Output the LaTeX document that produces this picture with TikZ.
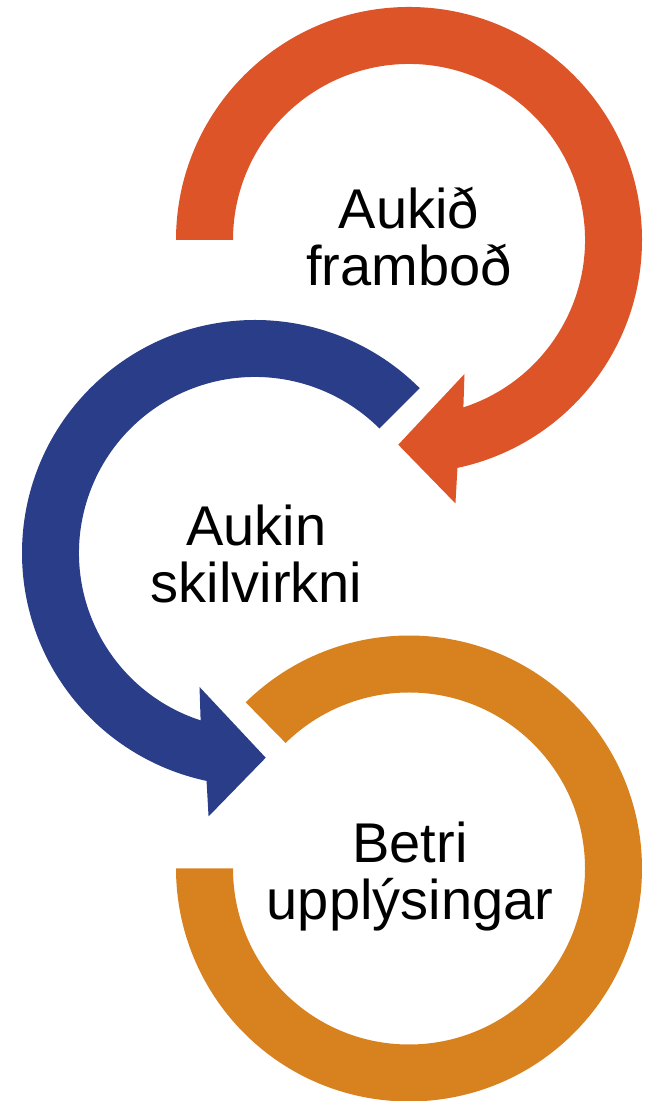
\documentclass[tikz,border=0pt]{standalone}
\usepackage{fontspec}
\setmainfont{Liberation Sans}
\usepackage{tikz}
\usetikzlibrary{calc}

\definecolor{rustred}{RGB}{220,84,39}
\definecolor{deepblue}{RGB}{42,61,136}
\definecolor{amber}{RGB}{216,129,31}

\begin{document}
\begin{tikzpicture}[x=0.5pt,y=0.5pt,
    ring/.style={fill=#1,draw=none},
    cycletext/.style={align=center,inner sep=0pt,text=black,
        font=\fontsize{28}{28.5}\selectfont}]

\useasboundingbox (0,0) rectangle (652,1101);

% Ring radii
\def\Rout{233}
\def\Rin{176}

% Top arrow, clockwise from the left
\begin{scope}[shift={(409,861)}]
\fill[ring=rustred] (180:\Rout) arc[start angle=180,end angle=-78,radius=\Rout]
    -- (-80:267.5) -- (-93:205) -- (-67.5:145) -- (-72:\Rin)
    arc[start angle=-72,end angle=180,radius=\Rin] -- cycle;
\end{scope}
\node[cycletext] (supply) at (409,864.6) {Aukið\\framboð};

% Middle arrow, counterclockwise from the upper right
\begin{scope}[shift={(255,548)}]
\fill[ring=deepblue] (45:\Rout) arc[start angle=45,end angle=258,radius=\Rout]
    -- (260:267.5) -- (273:205) -- (247.5:145) -- (252:\Rin)
    arc[start angle=252,end angle=45,radius=\Rin] -- cycle;
\end{scope}
\node[cycletext] (efficiency) at (256.5,547.5) {Aukin\\skilvirkni};

% Bottom ring, no head
\begin{scope}[shift={(409,232.5)}]
\fill[ring=amber] (134.5:\Rout) arc[start angle=134.5,end angle=-180,radius=\Rout]
    -- (180:\Rin) arc[start angle=-180,end angle=134.5,radius=\Rin] -- cycle;
\end{scope}
\node[cycletext] (information) at (410,224.8) {Betri\\upplýsingar};

\end{tikzpicture}
\end{document}
